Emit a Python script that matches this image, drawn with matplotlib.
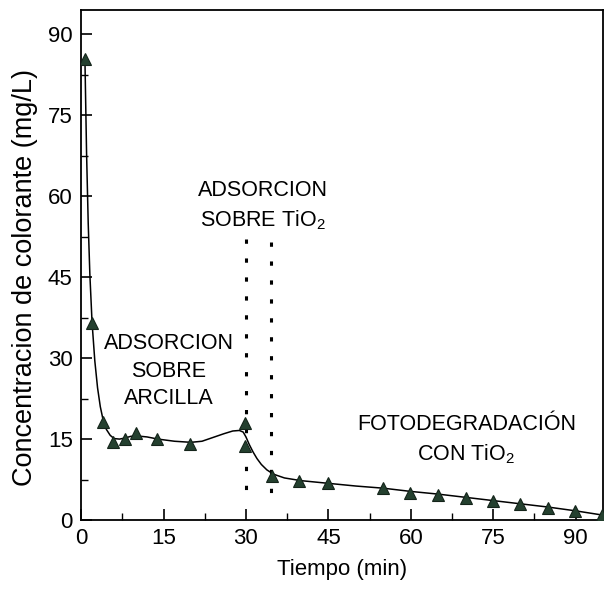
import matplotlib
matplotlib.use("Agg")
import matplotlib.pyplot as plt
from matplotlib.ticker import MultipleLocator

plt.rcParams['font.family'] = ['Liberation Sans', 'DejaVu Sans']
plt.rcParams['mathtext.fontset'] = 'custom'
plt.rcParams['mathtext.rm'] = 'Liberation Sans'

# measured points
time_min = [0.7, 2.0, 3.9, 5.9, 8.0, 10.0, 13.9, 19.9, 29.9, 29.9, 34.7, 39.7, 45.0,
            54.9, 59.9, 64.9, 70.0, 75.0, 79.9, 84.9, 89.8, 94.7]
conc = [85.5, 36.6, 18.2, 14.4, 15.0, 16.1, 15.0, 14.1, 17.9, 13.8, 8.1, 7.3, 6.8,
        5.9, 5.0, 4.6, 4.1, 3.5, 2.9, 2.3, 1.6, 1.0]

# smooth fitted curve
fit_t = [0.7, 1.0, 1.3, 1.6, 2.0, 2.5, 3.0, 3.5, 4.0, 4.6, 5.3, 6.0, 7.0, 8.0, 9.0, 10.0,
         12.0, 14.0, 17.0, 20.0, 22.0, 24.0, 26.0, 27.6, 28.8, 29.5, 30.0, 30.6, 31.3,
         32.0, 32.8, 33.8, 35.0, 37.0, 40.0, 45.0, 50.0, 55.0, 60.0, 65.0, 70.0, 75.0,
         80.0, 85.0, 90.0, 95.0]
fit_c = [85.5, 68.0, 55.0, 45.5, 36.6, 29.5, 24.5, 21.0, 18.6, 16.8, 15.7, 15.1, 15.0,
         15.2, 15.5, 15.6, 15.4, 15.0, 14.6, 14.4, 14.6, 15.3, 16.0, 16.5, 16.6, 16.3,
         15.4, 14.0, 12.6, 11.4, 10.3, 9.3, 8.5, 7.8, 7.3, 6.8, 6.3, 5.9, 5.3, 4.8,
         4.2, 3.6, 3.0, 2.4, 1.7, 0.9]

# boundaries of the adsorption-on-TiO2 stage
stage_x = [30.0, 34.5]
stage_y_top = [52.0, 51.5]
stage_y_bottom = [3.2, 2.6]

xticks = [0, 15, 30, 45, 60, 75, 90]
yticks = [0, 15, 30, 45, 60, 75, 90]

fig = plt.figure(figsize=(6.05, 5.95), dpi=100)
ax = fig.add_axes([0.134, 0.126, 0.863, 0.857])

ax.plot(fit_t, fit_c, color='black', lw=1.1, zorder=2)
ax.plot(time_min, conc, linestyle='none', marker='^', markersize=8,
        markerfacecolor='#24402f', markeredgecolor='#14241a', markeredgewidth=0.8, zorder=3)

for xv, a, b in zip(stage_x, stage_y_top, stage_y_bottom):
    ax.plot([xv, xv], [a, b], color='black', lw=2.2, linestyle=(0, (1.4, 4.8)),
            dash_capstyle='butt', zorder=2)

ax.set_xlim(0, 95)
ax.set_ylim(0, 94.5)
ax.set_xticks(xticks)
ax.set_yticks(yticks)
ax.xaxis.set_minor_locator(MultipleLocator(7.5))
ax.yaxis.set_minor_locator(MultipleLocator(7.5))
ax.tick_params(which='major', direction='in', length=8, width=1.2, labelsize=16, pad=6)
ax.tick_params(which='minor', direction='in', length=5, width=1.0)
for s in ax.spines.values():
    s.set_linewidth(1.3)

ax.set_xlabel('Tiempo (min)', fontsize=16, labelpad=7)
ax.set_ylabel('Concentracion de colorante (mg/L)', fontsize=19.5)
ax.yaxis.set_label_coords(-0.083, 0.475)

ax.text(15.9, 27.6, 'ADSORCION\nSOBRE\nARCILLA', ha='center', va='center',
        fontsize=15.5, linespacing=1.4)
ax.text(33.1, 58.2, 'ADSORCION\nSOBRE TiO$_\\mathregular{2}$', ha='center', va='center',
        fontsize=15.5, linespacing=1.4)
ax.text(70.1, 14.8, 'FOTODEGRADACIÓN\nCON TiO$_\\mathregular{2}$', ha='center', va='center',
        fontsize=15.5, linespacing=1.4)

fig.savefig('out.png', dpi=100)
